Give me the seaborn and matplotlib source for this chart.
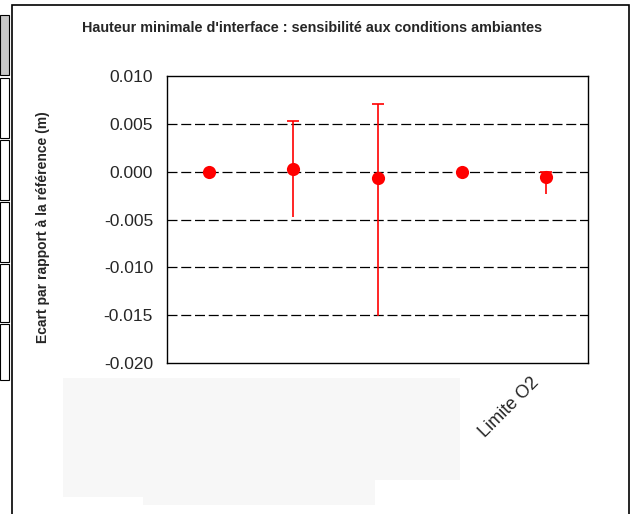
import matplotlib
matplotlib.use("Agg")
import matplotlib.pyplot as plt
import seaborn as sns
import pandas as pd
import numpy as np
from matplotlib.patches import Rectangle

categories = ["", "", "", "", "Limite O2"]
values = [0.0000, 0.0003, -0.0007, 0.0000, -0.0006]
upper = [0.0000, 0.0053, 0.0071, 0.0000, 0.0000]
lower = [0.0000, -0.0047, -0.0151, 0.0000, -0.0023]
yticks = [-0.020, -0.015, -0.010, -0.005, 0.000, 0.005, 0.010]

sns.set_theme(style="white")
plt.rcParams['font.family'] = ['Liberation Sans', 'DejaVu Sans']

fig = plt.figure(figsize=(6.31, 5.14), dpi=100)
W, H = 631, 514
ax = fig.add_axes([167 / W, 1 - 363 / H, (588 - 167) / W, (363 - 76) / H])

pos = np.arange(1, len(categories) + 1)
df = pd.DataFrame({"pos": pos, "val": values, "up": upper, "lo": lower})

for y in yticks[1:-1]:
    ax.axhline(y, color="black", lw=0.9, ls=(0, (8, 3)), zorder=1)

yerr = np.array([df["val"] - df["lo"], df["up"] - df["val"]])
mask = (yerr.sum(axis=0) > 0)
eb = ax.errorbar(df["pos"][mask], df["val"][mask], yerr=yerr[:, mask], fmt="none",
                 ecolor="red", elinewidth=1.2, capsize=4, capthick=1.2, zorder=2)
eb[1][0].set_visible(False)

sns.scatterplot(data=df, x="pos", y="val", color="red", s=90, edgecolor="red",
                linewidth=0, ax=ax, zorder=3)

ax.set_xlim(0.5, len(categories) + 0.5)
ax.set_ylim(-0.020, 0.010)
ax.set_yticks(yticks)
ax.set_yticklabels([f"{t:.3f}" for t in yticks], fontsize=12.5)
ax.set_xticks(np.arange(0.5, len(categories) + 1, 1.0))
ax.set_xticklabels([])
for p, lab in zip(pos, categories):
    if lab:
        ax.annotate(lab, xy=(p, 0), xycoords=ax.get_xaxis_transform(),
                    xytext=(-11, -8), textcoords="offset points",
                    rotation=45, ha="right", va="top", rotation_mode="anchor",
                    fontsize=13, annotation_clip=False)
ax.tick_params(axis="x", which="major", direction="out", length=5, width=1, color="black")
ax.tick_params(axis="y", direction="inout", length=8, width=1, color="black", pad=6)
ax.set_xlabel("")
ax.set_ylabel("Ecart par rapport à la référence (m)", fontsize=10,
              fontweight="bold", va="center")
ax.yaxis.set_label_coords((43 - 167) / 421, 0.474)
for s in ax.spines.values():
    s.set_color("black")
    s.set_linewidth(1)
    s.set_visible(True)

fig.text(312 / W, 1 - 28 / H,
         "Hauteur minimale d'interface : sensibilité aux conditions ambiantes",
         ha="center", va="center", fontsize=10.4, fontweight="bold")

# outer chart frame
fig.patches.append(Rectangle((12 / W, -0.01), (629 - 12) / W, 1 - 5 / H + 0.01,
                             transform=fig.transFigure, fill=False,
                             edgecolor="black", lw=1.2))
# left spreadsheet artifacts
boxes = [(15, 75, "#c8c8c8"), (78, 138, "white"), (140, 200, "white"),
         (202, 262, "white"), (264, 322, "white"), (324, 380, "white")]
for y0, y1, c in boxes:
    fig.patches.append(Rectangle((0, 1 - y1 / H), 9 / W, (y1 - y0) / H,
                                 transform=fig.transFigure, facecolor=c,
                                 edgecolor="black", lw=0.8))
# redaction blocks
for x0, x1, y0, y1 in [(63, 460, 378, 480), (63, 143, 378, 497), (143, 375, 378, 505)]:
    fig.patches.append(Rectangle((x0 / W, 1 - y1 / H), (x1 - x0) / W, (y1 - y0) / H,
                                 transform=fig.transFigure, facecolor="#f7f7f7",
                                 edgecolor="none"))

fig.savefig("out.png", dpi=100)
